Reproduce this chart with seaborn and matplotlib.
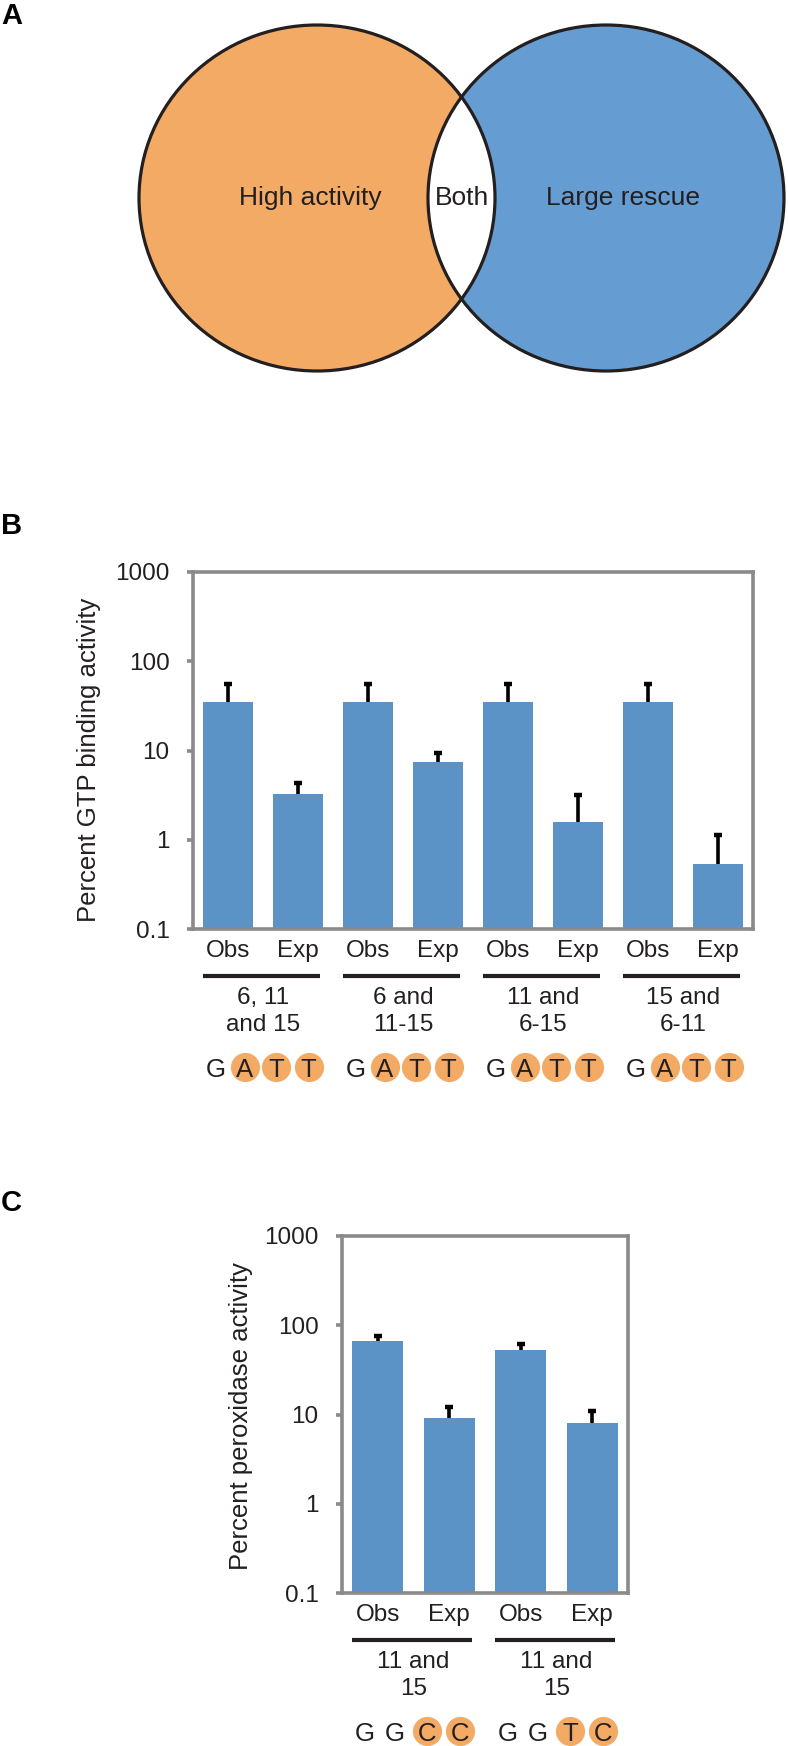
import numpy as np
import pandas as pd
import matplotlib
matplotlib.use('Agg')
import matplotlib.pyplot as plt
import matplotlib.transforms as mtransforms
from matplotlib.patches import Ellipse
from matplotlib.ticker import NullLocator
import seaborn as sns

# ---- data ----
venn_labels = ['High activity', 'Both', 'Large rescue']

bar_names = ['Obs', 'Exp']

b_groups = ['6, 11\nand 15', '6 and\n11-15', '11 and\n6-15', '15 and\n6-11']
b_obs = [35, 35, 35, 35]
b_obs_err = [20, 20, 20, 20]
b_exp = [3.25, 7.4, 1.6, 0.53]
b_exp_err = [1.05, 1.9, 1.55, 0.6]
b_seq = ['GATT', 'GATT', 'GATT', 'GATT']
b_seq_hi = [[0, 1, 1, 1]] * 4

c_groups = ['11 and\n15', '11 and\n15']
c_obs = [67, 53]
c_obs_err = [8, 8]
c_exp = [9.1, 8.0]
c_exp_err = [3.1, 3.0]
c_seq = ['GGCC', 'GGTC']
c_seq_hi = [[0, 0, 1, 1], [0, 0, 1, 1]]

# ---- style ----
ORANGE = '#F3AA65'
VBLUE = '#659DD2'
BAR = '#5B93C6'
SPINE = '#8A8A8A'
TXT = '#231F20'
FS = 17.5

sns.set_theme(style='white')
plt.rcParams['font.family'] = ['Liberation Sans', 'DejaVu Sans']
plt.rcParams['text.color'] = TXT

W, H = 788, 1746
fig = plt.figure(figsize=(W / 100, H / 100), dpi=100)


def px_axes(left, top, right, bottom):
    return fig.add_axes([left / W, 1 - bottom / H, (right - left) / W, (bottom - top) / H])


# ---- panel A: venn ----
ax_a = px_axes(0, 0, W, 420)
ax_a.set_xlim(0, W)
ax_a.set_ylim(420, 0)
ax_a.axis('off')
c1, c2, ew, eh = (317, 198), (606, 198), 356, 346
left_c = Ellipse(c1, ew, eh, fc=ORANGE, ec='none')
right_c = Ellipse(c2, ew, eh, fc=VBLUE, ec='none')
ax_a.add_patch(left_c)
ax_a.add_patch(right_c)
lens = Ellipse(c1, ew, eh, fc='white', ec='none')
ax_a.add_patch(lens)
lens.set_clip_path(right_c)
for c in (c1, c2):
    ax_a.add_patch(Ellipse(c, ew, eh, fill=False, ec=TXT, lw=2.3))
for x, lab in zip([310, 462, 623], venn_labels):
    ax_a.text(x, 198, lab, ha='center', va='center', fontsize=19, color=TXT)


# ---- bar panels ----
def bar_panel(ax, groups, obs, obs_err, exp, exp_err, seqs, seq_hi, ylabel, ylab_xy):
    rows = []
    for i in range(len(groups)):
        rows.append((f'{i}-Obs', 'Obs', obs[i], obs_err[i]))
        rows.append((f'{i}-Exp', 'Exp', exp[i], exp_err[i]))
    df = pd.DataFrame(rows, columns=['key', 'kind', 'value', 'err'])
    n = len(df)

    sns.barplot(data=df, x='key', y='value', color=BAR, saturation=1, width=0.71,
                errorbar=None, linewidth=0, ax=ax)
    eb = ax.errorbar(np.arange(n), df['value'], yerr=[np.zeros(n), df['err']], fmt='none',
                     ecolor='black', elinewidth=2.6, capsize=2.9, capthick=3.2, zorder=3)
    eb[1][0].set_visible(False)  # only the upper cap

    ax.set_yscale('log')
    ax.set_ylim(0.1, 1000)
    ax.set_xlim(-0.5, n - 0.5)
    ax.set_yticks([0.1, 1, 10, 100, 1000])
    ax.set_yticklabels(['0.1', '1', '10', '100', '1000'])
    ax.yaxis.set_minor_locator(NullLocator())
    ax.set_xticks(np.arange(n))
    ax.set_xticklabels(df['kind'])
    ax.set_xlabel('')
    ax.tick_params(axis='x', length=0, pad=8, labelsize=FS, labelcolor=TXT)
    ax.tick_params(axis='y', left=True, length=4.5, width=2.6, color=SPINE,
                   direction='out', pad=12.5, labelsize=FS, labelcolor=TXT)
    for s in ax.spines.values():
        s.set_visible(True)
        s.set_color(SPINE)
        s.set_linewidth(2.6)
    ax.set_ylabel(ylabel, fontsize=18.5, color=TXT)
    ax.yaxis.set_label_coords(*ylab_xy)

    trans = mtransforms.blended_transform_factory(ax.transData, ax.transAxes)
    offs = [-0.18, 0.24, 0.69, 1.15]
    for i, g in enumerate(groups):
        x0 = 2 * i
        ax.plot([x0 - 0.36, x0 + 1.32], [-0.132, -0.132], transform=trans,
                clip_on=False, color=TXT, lw=3, solid_capstyle='butt')
        ax.text(x0 + 0.5, -0.232, g, transform=trans, ha='center', va='center',
                fontsize=FS, linespacing=1.3)
        for j, ch in enumerate(seqs[i]):
            xs = x0 + offs[j]
            if seq_hi[i][j]:
                ax.plot([xs], [-0.387], 'o', ms=21, color=ORANGE, mec='none',
                        transform=trans, clip_on=False)
            ax.text(xs, -0.387, ch, transform=trans, ha='center',
                    va='center_baseline', fontsize=18.5)


ax_b = px_axes(193, 572, 753, 929)
bar_panel(ax_b, b_groups, b_obs, b_obs_err, b_exp, b_exp_err, b_seq, b_seq_hi,
          'Percent GTP binding activity', (-0.165, 0.473))

ax_c = px_axes(342, 1236, 628, 1593)
bar_panel(ax_c, c_groups, c_obs, c_obs_err, c_exp, c_exp_err, c_seq, c_seq_hi,
          'Percent peroxidase activity', (-0.31, 0.496))

# panel letters
for lab, yb in [('A', 24), ('B', 534), ('C', 1211)]:
    fig.text(1 / W, 1 - yb / H, lab, fontsize=21, fontweight='bold', color='black',
             ha='left', va='baseline')

fig.savefig('out.png', dpi=100)
